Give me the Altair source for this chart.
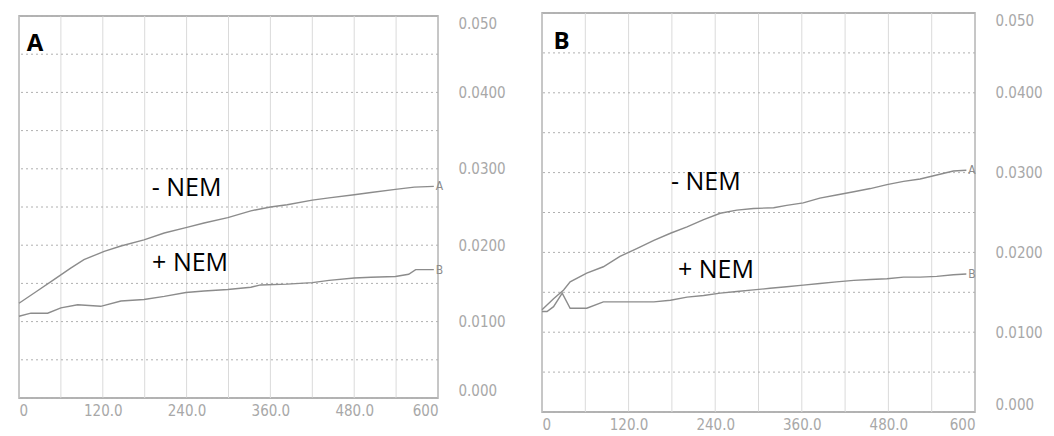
import altair as alt
import pandas as pd

# ---------------- data ----------------
# Panel A
A_minus_t = [0, 26, 50, 74, 93, 122, 146, 179, 208, 239, 265, 299, 332, 360, 384, 420, 444, 480, 504, 539, 566, 594]
A_minus_v = [0.0124, 0.0140, 0.0155, 0.0170, 0.0181, 0.0192, 0.0199, 0.0207, 0.0216, 0.0223, 0.0229,
             0.0236, 0.0245, 0.0250, 0.0253, 0.0259, 0.0262, 0.0266, 0.0269, 0.0273, 0.0276, 0.0277]
A_plus_t = [0, 17, 41, 60, 84, 117, 146, 179, 208, 239, 265, 299, 332, 346, 384, 420, 444, 480, 504, 539, 558, 568, 594]
A_plus_v = [0.0107, 0.0111, 0.0111, 0.0118, 0.0122, 0.0120, 0.0127, 0.0129, 0.0133, 0.0138, 0.0140, 0.0142,
            0.0145, 0.0148, 0.0149, 0.0151, 0.0154, 0.0157, 0.0158, 0.0159, 0.0162, 0.0168, 0.0168]
# Panel B
B_minus_t = [0, 16, 30, 39, 62, 85, 108, 132, 155, 178, 201, 224, 247, 270, 293, 321, 339, 362, 385, 408,
             432, 455, 478, 501, 524, 547, 570, 588]
B_minus_v = [0.0128, 0.0142, 0.0153, 0.0163, 0.0174, 0.0182, 0.0195, 0.0205, 0.0215, 0.0224, 0.0232, 0.0241,
             0.0249, 0.0253, 0.0255, 0.0256, 0.0259, 0.0262, 0.0268, 0.0272, 0.0276, 0.0280, 0.0285, 0.0289,
             0.0292, 0.0297, 0.0302, 0.0303]
B_plus_t = [0, 7, 16, 28, 39, 62, 85, 108, 132, 155, 178, 201, 224, 247, 270, 293, 316, 339, 362, 385, 408,
            432, 455, 478, 501, 524, 547, 570, 588]
B_plus_v = [0.0126, 0.0126, 0.0132, 0.0149, 0.0130, 0.0130, 0.0138, 0.0138, 0.0138, 0.0138, 0.0140, 0.0144,
            0.0146, 0.0149, 0.0151, 0.0153, 0.0155, 0.0157, 0.0159, 0.0161, 0.0163, 0.0165, 0.0166, 0.0167,
            0.0169, 0.0169, 0.0170, 0.0172, 0.0173]

series_names = ["- NEM", "+ NEM"]
end_letters = ["A", "B"]

# annotation positions (data units)
ann_A = {"t": [240, 245], "v": [0.0264, 0.0166]}
ann_B = {"t": [227, 241], "v": [0.0278, 0.0168]}
letter_pos = {"A": (11, 0.0454), "B": (16, 0.0455)}

x_grid = [0, 60, 120, 180, 240, 300, 360, 420, 480, 540, 600]
y_grid = [0.0, 0.005, 0.01, 0.015, 0.02, 0.025, 0.03, 0.035, 0.04, 0.045, 0.05]
x_label_vals = [0, 120, 240, 360, 480, 600]
y_label_vals = [0.0, 0.01, 0.02, 0.03, 0.04, 0.05]

LINE_COL = "#8c8c8c"
LBL_COL = "#a8a8a8"
LBL_FONT = "Liberation Sans Narrow, DejaVu Sans Condensed, sans-serif"

x_label_expr = ("datum.value == 0 ? '0' : datum.value == 600 ? '600' : format(datum.value, '.1f')")
y_label_expr = ("datum.value > 0.0499 ? '0.050' : datum.value < 0.0001 ? '0.000' : format(datum.value, '.4f')")


def make_panel(minus_t, minus_v, plus_t, plus_v, ann, letter, w, h):
    rows = []
    for t, v in zip(minus_t, minus_v):
        rows.append({"t": t, "v": v, "s": series_names[0]})
    for t, v in zip(plus_t, plus_v):
        rows.append({"t": t, "v": v, "s": series_names[1]})
    df = pd.DataFrame(rows)

    xs = alt.Scale(domain=[0, 600], nice=False, zero=False)
    ys = alt.Scale(domain=[0, 0.05], nice=False)

    x_axis = alt.Axis(values=x_label_vals, labelExpr=x_label_expr, ticks=False, domain=False, title=None,
                      grid=False, labelFlush=True,
                      labelFont=LBL_FONT, labelFontSize=15, labelColor=LBL_COL, labelPadding=5)
    y_axis = alt.Axis(values=y_label_vals, labelExpr=y_label_expr, orient="right", ticks=False, domain=False,
                      title=None, grid=False, labelFlush=True, labelFlushOffset=0, labelFont=LBL_FONT,
                      labelFontSize=15, labelColor=LBL_COL, labelPadding=20)

    vgrid = alt.Chart(pd.DataFrame({"t": x_grid})).mark_rule(color="#dadada", strokeWidth=1).encode(
        x=alt.X("t:Q", scale=xs, axis=x_axis))
    hgrid = alt.Chart(pd.DataFrame({"v": y_grid})).mark_rule(
        color="#b0b0b0", strokeWidth=1, strokeDash=[2, 3]).encode(
        y=alt.Y("v:Q", scale=ys, axis=y_axis))

    lines = alt.Chart(df).mark_line(color=LINE_COL, strokeWidth=1.4).encode(
        x=alt.X("t:Q", scale=xs),
        y=alt.Y("v:Q", scale=ys),
        detail="s:N",
    )

    ends = pd.DataFrame({
        "t": [minus_t[-1], plus_t[-1]],
        "v": [minus_v[-1], plus_v[-1]],
        "lab": end_letters,
    })
    end_text = alt.Chart(ends).mark_text(align="left", baseline="middle", dx=2, fontSize=12,
                                         color=LINE_COL, font=LBL_FONT).encode(
        x=alt.X("t:Q", scale=xs), y=alt.Y("v:Q", scale=ys), text="lab:N")

    ann_df = pd.DataFrame({"t": ann["t"], "v": ann["v"], "lab": series_names})
    ann_text = alt.Chart(ann_df).mark_text(align="center", baseline="alphabetic", fontSize=25,
                                           font="Open Sans", color="black").encode(
        x=alt.X("t:Q", scale=xs), y=alt.Y("v:Q", scale=ys), text="lab:N")

    lx, ly = letter_pos[letter]
    let_df = pd.DataFrame({"t": [lx], "v": [ly], "lab": [letter]})
    let_text = alt.Chart(let_df).mark_text(align="left", baseline="alphabetic", fontSize=24,
                                           font="Open Sans", fontWeight="bold", color="black").encode(
        x=alt.X("t:Q", scale=xs), y=alt.Y("v:Q", scale=ys), text="lab:N")

    return alt.layer(vgrid, hgrid, lines, end_text, ann_text, let_text).properties(
        width=w, height=h, view=alt.ViewConfig(stroke="#9a9a9a", strokeWidth=1.5))


panel_a = make_panel(A_minus_t, A_minus_v, A_plus_t, A_plus_v, ann_A, "A", 419, 382)
panel_b = make_panel(B_minus_t, B_minus_v, B_plus_t, B_plus_v, ann_B, "B", 433, 399)

# small invisible spacer that pushes panel A down relative to panel B
spacer = alt.Chart(pd.DataFrame({"a": [0]})).mark_point(opacity=0, size=1).encode(
    x=alt.value(0), y=alt.value(0)
).properties(width=1, height=1, view=alt.ViewConfig(stroke="transparent", strokeWidth=0))

col_a = alt.vconcat(spacer, panel_a, spacing=0)

chart = alt.hconcat(col_a, panel_b, spacing=32).properties(
    padding={"left": 7, "top": 3, "right": 0, "bottom": 0},
    background="white",
)

chart.save("out.html", embed_options={"renderer": "svg", "actions": False})
